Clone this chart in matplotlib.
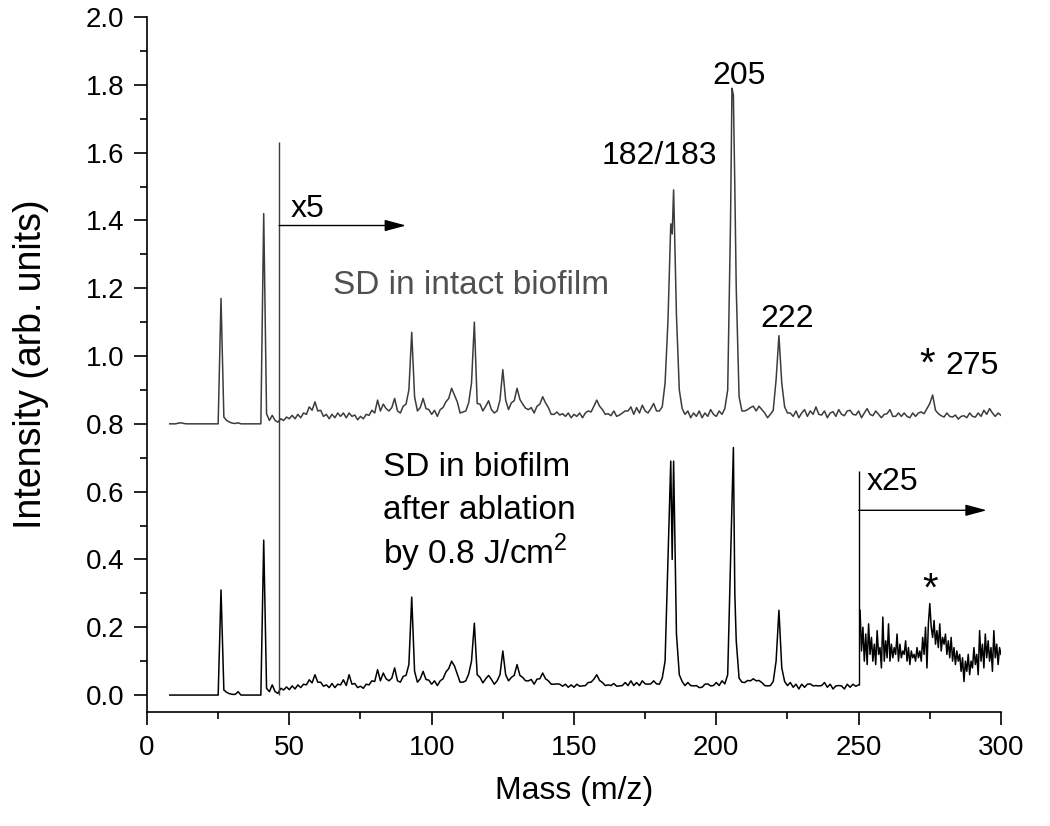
import numpy as np
import matplotlib.pyplot as plt
from matplotlib.ticker import MultipleLocator

plt.rcParams['font.family'] = ['Liberation Sans', 'DejaVu Sans']
plt.rcParams['mathtext.fontset'] = 'custom'
plt.rcParams['mathtext.rm'] = 'Liberation Sans'

# ---- data (1 m/z grid, plus extra apex points) ----
# upper spectrum: SD in intact biofilm (offset +0.8, x5 above m/z 46)
top_start = 8
top_vals = [
    0.800, 0.800, 0.800, 0.802, 0.803, 0.801, 0.800, 0.800, 0.800, 0.800,   # 8-17
    0.800, 0.800, 0.800, 0.800, 0.800, 0.800, 0.800, 0.800, 1.170, 0.820,   # 18-27
    0.810, 0.805, 0.802, 0.801, 0.803, 0.800, 0.800, 0.800, 0.800, 0.800,   # 28-37
    0.800, 0.800, 0.800, 1.420, 0.830, 0.810, 0.825, 0.810, 0.805, 0.815,   # 38-47
    0.810, 0.820, 0.815, 0.825, 0.815, 0.828, 0.818, 0.832, 0.828, 0.850,   # 48-57
    0.840, 0.865, 0.838, 0.840, 0.822, 0.828, 0.815, 0.828, 0.818, 0.832,   # 58-67
    0.822, 0.832, 0.818, 0.832, 0.822, 0.826, 0.812, 0.822, 0.815, 0.828,   # 68-77
    0.825, 0.840, 0.832, 0.870, 0.838, 0.858, 0.845, 0.838, 0.848, 0.875,   # 78-87
    0.838, 0.832, 0.852, 0.858, 0.900, 1.070, 0.880, 0.838, 0.848, 0.875,   # 88-97
    0.845, 0.842, 0.828, 0.840, 0.822, 0.842, 0.848, 0.865, 0.875, 0.905,   # 98-107
    0.885, 0.865, 0.832, 0.835, 0.838, 0.862, 0.920, 1.100, 0.860, 0.858,   # 108-117
    0.838, 0.852, 0.868, 0.842, 0.832, 0.838, 0.870, 0.960, 0.870, 0.842,   # 118-127
    0.862, 0.868, 0.905, 0.872, 0.858, 0.846, 0.842, 0.848, 0.832, 0.852,   # 128-137
    0.858, 0.880, 0.862, 0.848, 0.828, 0.828, 0.835, 0.826, 0.830, 0.822,   # 138-147
    0.832, 0.818, 0.828, 0.822, 0.832, 0.818, 0.832, 0.838, 0.835, 0.852,   # 148-157
    0.870, 0.852, 0.842, 0.828, 0.830, 0.824, 0.838, 0.822, 0.826, 0.832,   # 158-167
    0.838, 0.838, 0.850, 0.828, 0.848, 0.832, 0.855, 0.838, 0.832, 0.845,   # 168-177
    0.860, 0.838, 0.838, 0.850, 0.920, 1.100, 1.390, 1.490, 1.120, 0.900,   # 178-187
    0.845, 0.828, 0.838, 0.818, 0.832, 0.822, 0.838, 0.818, 0.832, 0.822,   # 188-197
    0.842, 0.828, 0.822, 0.838, 0.828, 0.845, 0.900, 1.400, 1.770, 1.200,   # 198-207
    0.880, 0.838, 0.838, 0.842, 0.848, 0.852, 0.838, 0.852, 0.842, 0.832,   # 208-217
    0.818, 0.828, 0.840, 0.930, 1.060, 0.920, 0.850, 0.832, 0.832, 0.822,   # 218-227
    0.838, 0.818, 0.832, 0.842, 0.822, 0.838, 0.828, 0.850, 0.828, 0.826,   # 228-237
    0.838, 0.818, 0.832, 0.836, 0.822, 0.842, 0.828, 0.824, 0.838, 0.840,   # 238-247
    0.828, 0.826, 0.838, 0.818, 0.832, 0.845, 0.828, 0.824, 0.838, 0.828,   # 248-257
    0.818, 0.828, 0.830, 0.842, 0.822, 0.822, 0.832, 0.822, 0.832, 0.822,   # 258-267
    0.818, 0.832, 0.822, 0.832, 0.835, 0.830, 0.845, 0.860, 0.885, 0.840,   # 268-277
    0.830, 0.824, 0.820, 0.832, 0.822, 0.820, 0.826, 0.814, 0.822, 0.824,   # 278-287
    0.818, 0.832, 0.822, 0.820, 0.832, 0.822, 0.840, 0.828, 0.845, 0.832,   # 288-297
    0.822, 0.832, 0.825,                                                    # 298-300
]
top_extra_m = [184.5, 205.5, 206.5]
top_extra_v = [1.360, 1.790, 1.500]

# lower spectrum: SD after ablation by 0.8 J/cm2 (x5 above m/z 46)
bot_start = 8
bot_vals = [
    0.000, 0.000, 0.000, 0.000, 0.000, 0.000, 0.000, 0.000, 0.000, 0.000,   # 8-17
    0.000, 0.000, 0.000, 0.000, 0.000, 0.000, 0.000, 0.000, 0.310, 0.015,   # 18-27
    0.008, 0.004, 0.002, 0.002, 0.010, 0.000, 0.000, 0.000, 0.000, 0.000,   # 28-37
    0.000, 0.000, 0.000, 0.457, 0.020, 0.010, 0.030, 0.010, 0.005, 0.020,   # 38-47
    0.015, 0.024, 0.016, 0.027, 0.018, 0.030, 0.022, 0.032, 0.030, 0.045,   # 48-57
    0.036, 0.060, 0.038, 0.038, 0.026, 0.030, 0.022, 0.034, 0.022, 0.032,   # 58-67
    0.030, 0.045, 0.028, 0.060, 0.032, 0.034, 0.022, 0.026, 0.020, 0.032,   # 68-77
    0.030, 0.042, 0.040, 0.075, 0.042, 0.065, 0.048, 0.042, 0.050, 0.080,   # 78-87
    0.042, 0.038, 0.055, 0.058, 0.090, 0.289, 0.070, 0.038, 0.048, 0.070,   # 88-97
    0.046, 0.044, 0.032, 0.042, 0.028, 0.042, 0.048, 0.068, 0.078, 0.100,   # 98-107
    0.086, 0.062, 0.038, 0.038, 0.042, 0.062, 0.100, 0.212, 0.060, 0.052,   # 108-117
    0.036, 0.048, 0.058, 0.046, 0.032, 0.042, 0.060, 0.130, 0.060, 0.042,   # 118-127
    0.052, 0.058, 0.090, 0.058, 0.052, 0.042, 0.042, 0.046, 0.032, 0.047,   # 128-137
    0.048, 0.065, 0.048, 0.042, 0.032, 0.032, 0.033, 0.032, 0.026, 0.032,   # 138-147
    0.023, 0.030, 0.023, 0.032, 0.026, 0.027, 0.028, 0.037, 0.038, 0.047,   # 148-157
    0.060, 0.043, 0.037, 0.028, 0.030, 0.028, 0.034, 0.026, 0.027, 0.028,   # 158-167
    0.037, 0.028, 0.042, 0.028, 0.037, 0.028, 0.042, 0.033, 0.032, 0.033,   # 168-177
    0.042, 0.033, 0.032, 0.050, 0.100, 0.400, 0.690, 0.690, 0.180, 0.060,   # 178-187
    0.040, 0.028, 0.037, 0.028, 0.027, 0.028, 0.022, 0.023, 0.032, 0.033,   # 188-197
    0.027, 0.028, 0.037, 0.028, 0.042, 0.033, 0.060, 0.400, 0.730, 0.160,   # 198-207
    0.050, 0.038, 0.037, 0.043, 0.042, 0.048, 0.042, 0.043, 0.037, 0.028,   # 208-217
    0.027, 0.028, 0.040, 0.100, 0.250, 0.080, 0.040, 0.028, 0.037, 0.023,   # 218-227
    0.032, 0.018, 0.032, 0.023, 0.032, 0.033, 0.027, 0.028, 0.027, 0.028,   # 228-237
    0.037, 0.023, 0.032, 0.018, 0.027, 0.028, 0.027, 0.018, 0.032, 0.023,   # 238-247
    0.032, 0.026, 0.030,                                                    # 248-250
]
bot_extra_m = [184.5, 206.5]
bot_extra_v = [0.400, 0.300]

# x25 section of the lower spectrum (m/z 250.5-300, 0.5 steps)
x25_start = 250.5
x25_vals = [
    0.25, 0.13, 0.20, 0.10, 0.18, 0.09, 0.21, 0.12, 0.17, 0.10,   # 250.5-255
    0.15, 0.09, 0.19, 0.12, 0.14, 0.08, 0.23, 0.10, 0.16, 0.11,   # 255.5-260
    0.21, 0.10, 0.15, 0.11, 0.14, 0.12, 0.18, 0.10, 0.15, 0.11,   # 260.5-265
    0.13, 0.12, 0.16, 0.10, 0.14, 0.09, 0.13, 0.11, 0.12, 0.10,   # 265.5-270
    0.14, 0.11, 0.13, 0.10, 0.17, 0.12, 0.20, 0.08, 0.21, 0.27,   # 270.5-275
    0.20, 0.17, 0.22, 0.15, 0.19, 0.14, 0.21, 0.13, 0.17, 0.15,   # 275.5-280
    0.18, 0.12, 0.16, 0.11, 0.17, 0.10, 0.14, 0.09, 0.13, 0.10,   # 280.5-285
    0.12, 0.07, 0.11, 0.04, 0.10, 0.07, 0.12, 0.06, 0.10, 0.08,   # 285.5-290
    0.14, 0.09, 0.12, 0.06, 0.19, 0.10, 0.15, 0.08, 0.18, 0.11,   # 290.5-295
    0.16, 0.10, 0.14, 0.07, 0.19, 0.11, 0.15, 0.09, 0.14, 0.12,   # 295.5-300
]

# scale markers: break lines (mass, bottom, top) and arrows (from, to, level)
x5_line = (46.4, 0.0, 1.63)
x5_arrow = (46.4, 91.0, 1.385)
x25_line = (250.0, 0.03, 0.66)
x25_arrow = (250.0, 295.0, 0.545)


def build(start, vals, extra_m, extra_v):
    m = np.concatenate([start + np.arange(len(vals)), extra_m])
    v = np.concatenate([vals, extra_v])
    order = np.argsort(m)
    return m[order], v[order]


top_m, top_v = build(top_start, top_vals, top_extra_m, top_extra_v)
bot_m, bot_v = build(bot_start, bot_vals, bot_extra_m, bot_extra_v)
x25_m = x25_start + 0.5 * np.arange(len(x25_vals))

fig = plt.figure(figsize=(10.5, 8.26), dpi=100)
ax = fig.add_axes([0.14, 0.138, 0.8133, 0.8414])

grey = '#3c3c3c'
ax.plot(top_m, top_v, color=grey, linewidth=1.1)
ax.plot(bot_m, bot_v, color='black', linewidth=1.1)
ax.plot(x25_m, x25_vals, color='black', linewidth=1.1)

# break lines
ax.vlines(x5_line[0], x5_line[1], x5_line[2], color=grey, linewidth=1.0)
ax.vlines(x25_line[0], x25_line[1], x25_line[2], color='black', linewidth=1.0)

arrow_kw = dict(arrowstyle='-|>,head_length=1.3,head_width=0.35',
                color='black', linewidth=1.0, shrinkA=0, shrinkB=0)
ax.annotate('', xy=(x5_arrow[1], x5_arrow[2]), xytext=(x5_arrow[0], x5_arrow[2]),
            arrowprops=arrow_kw)
ax.annotate('', xy=(x25_arrow[1], x25_arrow[2]), xytext=(x25_arrow[0], x25_arrow[2]),
            arrowprops=arrow_kw)

fs = 23
ax.text(56.5, 1.435, 'x5', fontsize=fs, ha='center', va='center')
ax.text(262, 0.627, 'x25', fontsize=fs, ha='center', va='center')
ax.text(180, 1.59, '182/183', fontsize=fs, ha='center', va='center')
ax.text(208, 1.826, '205', fontsize=fs, ha='center', va='center')
ax.text(225, 1.11, '222', fontsize=fs, ha='center', va='center')
ax.text(290, 0.97, '275', fontsize=fs, ha='center', va='center')
ax.text(274, 0.975, '*', fontsize=29, ha='center', va='center')
ax.text(275, 0.31, '*', fontsize=29, ha='center', va='center')
ax.text(65.3, 1.208, 'SD in intact biofilm', fontsize=24, color='#505050',
        ha='left', va='center')
ax.text(83, 0.672, 'SD in biofilm', fontsize=24, ha='left', va='center')
ax.text(83, 0.545, 'after ablation', fontsize=24, ha='left', va='center')
ax.text(83, 0.418, 'by 0.8 J/cm$^{2}$', fontsize=24, ha='left', va='center')

ax.set_xlim(0, 300)
ax.set_ylim(-0.05, 2.0)
ax.xaxis.set_major_locator(MultipleLocator(50))
ax.xaxis.set_minor_locator(MultipleLocator(25))
ax.yaxis.set_major_locator(MultipleLocator(0.2))
ax.yaxis.set_minor_locator(MultipleLocator(0.1))
ax.yaxis.set_major_formatter(plt.FormatStrFormatter('%.1f'))

ax.spines['top'].set_visible(False)
ax.spines['right'].set_visible(False)
for s in ('left', 'bottom'):
    ax.spines[s].set_linewidth(1.2)
ax.tick_params(which='major', direction='out', length=9.5, width=1.2,
               labelsize=20, pad=7)
ax.tick_params(which='minor', direction='out', length=5, width=1.2)

ax.set_xlabel('Mass (m/z)', fontsize=23, labelpad=11)
ax.set_ylabel('Intensity (arb. units)', fontsize=27, labelpad=26)

fig.savefig('out.png', dpi=100)
